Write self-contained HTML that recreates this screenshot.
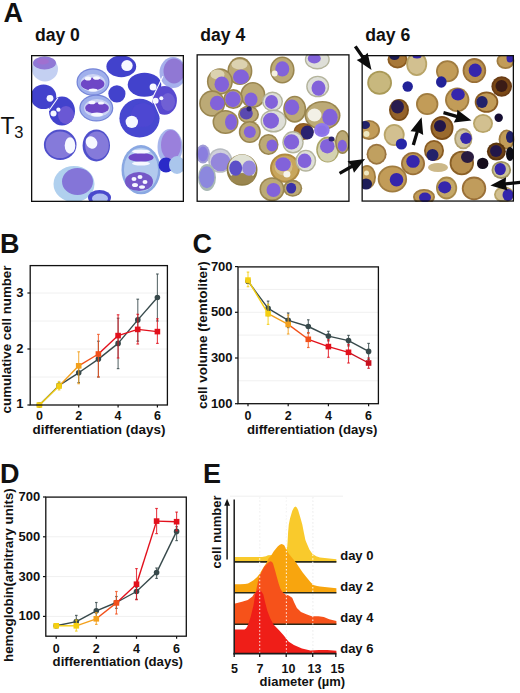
<!DOCTYPE html>
<html><head><meta charset="utf-8"><title>Figure</title>
<style>
html,body{margin:0;padding:0;background:#fff;}
body{width:520px;height:693px;overflow:hidden;}
svg{display:block;}
text{font-family:'Liberation Sans',sans-serif;fill:#111;}
</style></head>
<body>
<svg width="520" height="693" viewBox="0 0 520 693">
<rect width="520" height="693" fill="#fff"/>
<text x="3.4" y="21.8" font-size="27" font-weight="bold" text-anchor="start" >A</text>
<text x="34.9" y="41.3" font-size="17.6" font-weight="bold" text-anchor="start" >day 0</text>
<text x="200.3" y="41.3" font-size="17.6" font-weight="bold" text-anchor="start" >day 4</text>
<text x="365.3" y="41.3" font-size="17.6" font-weight="bold" text-anchor="start" >day 6</text>
<text x="0.4" y="133.7" font-size="23" font-weight="normal" text-anchor="start" >T</text>
<text x="14.2" y="137.7" font-size="16.5" font-weight="normal" text-anchor="start" >3</text>
<g transform="translate(31,55)">

<defs>
<filter id="soft" x="-5%" y="-5%" width="110%" height="110%"><feGaussianBlur stdDeviation="0.55"/></filter>
<filter id="soft2" x="-20%" y="-20%" width="140%" height="140%"><feGaussianBlur stdDeviation="1.2"/></filter>
<radialGradient id="g0D" cx="50%" cy="50%" r="50%">
  <stop offset="0" stop-color="#3d3dcc"/><stop offset="0.8" stop-color="#3a3ac8"/><stop offset="1" stop-color="#5a5ad8"/></radialGradient>
<radialGradient id="g0M" cx="50%" cy="50%" r="50%">
  <stop offset="0" stop-color="#6a5cd2"/><stop offset="0.8" stop-color="#5a52d0"/><stop offset="1" stop-color="#7a80e0"/></radialGradient>
<radialGradient id="g0P" cx="50%" cy="50%" r="50%">
  <stop offset="0" stop-color="#9886dc"/><stop offset="0.7" stop-color="#8476d8"/><stop offset="1" stop-color="#6c6cd8"/></radialGradient>
<radialGradient id="g0L" cx="50%" cy="50%" r="50%">
  <stop offset="0" stop-color="#8a70d0"/><stop offset="0.45" stop-color="#9a88d8"/><stop offset="0.62" stop-color="#d8e4f8"/><stop offset="0.85" stop-color="#b8d0f4"/><stop offset="1" stop-color="#8aa8e8"/></radialGradient>
<radialGradient id="g4T" cx="50%" cy="50%" r="50%">
  <stop offset="0" stop-color="#d6bc8e"/><stop offset="0.75" stop-color="#c8a874"/><stop offset="1" stop-color="#9c7a48"/></radialGradient>
<radialGradient id="g4G" cx="50%" cy="50%" r="50%">
  <stop offset="0" stop-color="#e4e4ea"/><stop offset="0.75" stop-color="#d4d6dc"/><stop offset="1" stop-color="#a8a898"/></radialGradient>
<radialGradient id="g4B" cx="50%" cy="50%" r="50%">
  <stop offset="0" stop-color="#b08850"/><stop offset="0.75" stop-color="#a07840"/><stop offset="1" stop-color="#7a5828"/></radialGradient>
<radialGradient id="gNP" cx="50%" cy="50%" r="50%">
  <stop offset="0" stop-color="#8c7ce4"/><stop offset="0.8" stop-color="#7868d8"/><stop offset="1" stop-color="#8878c8"/></radialGradient>
<radialGradient id="gNB" cx="50%" cy="50%" r="50%">
  <stop offset="0" stop-color="#3030b0"/><stop offset="0.8" stop-color="#2a2aa0"/><stop offset="1" stop-color="#303090"/></radialGradient>
<radialGradient id="gNK" cx="50%" cy="50%" r="50%">
  <stop offset="0" stop-color="#201848"/><stop offset="0.8" stop-color="#282050"/><stop offset="1" stop-color="#403040"/></radialGradient>
<radialGradient id="g6T" cx="50%" cy="50%" r="50%">
  <stop offset="0" stop-color="#d2b680"/><stop offset="0.7" stop-color="#c8a868"/><stop offset="1" stop-color="#a88448"/></radialGradient>
<radialGradient id="g6B" cx="50%" cy="50%" r="50%">
  <stop offset="0" stop-color="#8a5a20"/><stop offset="0.7" stop-color="#9a6a2a"/><stop offset="1" stop-color="#7a5020"/></radialGradient>
<clipPath id="c0"><rect x="0" y="0" width="152.5" height="147"/></clipPath>
</defs>

<g clip-path="url(#c0)"><g filter="url(#soft)">
<ellipse cx="14.0" cy="14.0" rx="13.0" ry="12.5" fill="#c4d0f2" />
<ellipse cx="13.5" cy="8.0" rx="11.5" ry="6.5" fill="#9078d6" />
<ellipse cx="12.0" cy="6.5" rx="6.0" ry="3.0" fill="#a070d0" />
<ellipse cx="90.3" cy="11.4" rx="14.9" ry="10.8" fill="#4242cc" />
<ellipse cx="96.0" cy="10.6" rx="5.7" ry="5.5" fill="#f6f8ff" />
<ellipse cx="142.0" cy="17.6" rx="13.5" ry="15.5" fill="#a6b0ec" />
<ellipse cx="143.0" cy="16.0" rx="10.5" ry="12.5" fill="#9078d4" />
<ellipse cx="12.5" cy="41.8" rx="12.8" ry="12.3" fill="#4242cc" />
<ellipse cx="19.0" cy="43.3" rx="3.4" ry="3.4" fill="#f6f8ff" />
<ellipse cx="31.0" cy="56.0" rx="13.0" ry="14.6" fill="#4242cc" />
<ellipse cx="35.0" cy="60.0" rx="8.0" ry="9.0" fill="#6a58d4" />
<ellipse cx="22.5" cy="58.5" rx="3.0" ry="3.0" fill="#f6f8ff" />
<ellipse cx="27.4" cy="54.7" rx="2.1" ry="2.1" fill="#f6f8ff" />
<ellipse cx="62.0" cy="27.0" rx="16.5" ry="13.8" fill="#7484d8" />
<ellipse cx="62.0" cy="27.0" rx="15.3" ry="12.6" fill="#a0b0ec" />
<ellipse cx="62.0" cy="28.0" rx="12.5" ry="9.0" fill="#ccd4f4" />
<ellipse cx="61.6" cy="29.0" rx="11.8" ry="6.3" fill="#6e46c6" />
<ellipse cx="57.0" cy="23.5" rx="3.2" ry="2.0" fill="#f6f8ff" />
<ellipse cx="65.5" cy="23.0" rx="3.5" ry="1.8" fill="#f6f8ff" />
<ellipse cx="62.0" cy="35.0" rx="4.5" ry="1.6" fill="#f6f8ff" />
<ellipse cx="65.3" cy="53.0" rx="17.0" ry="13.5" fill="#7484d8" />
<ellipse cx="65.3" cy="53.0" rx="15.8" ry="12.3" fill="#a0b0ec" />
<ellipse cx="66.0" cy="53.0" rx="13.0" ry="9.0" fill="#ccd4f4" />
<ellipse cx="66.0" cy="53.0" rx="11.8" ry="5.6" fill="#6e46c6" />
<ellipse cx="61.0" cy="47.5" rx="3.5" ry="1.8" fill="#f6f8ff" />
<ellipse cx="70.0" cy="48.0" rx="3.0" ry="1.6" fill="#f6f8ff" />
<ellipse cx="66.0" cy="59.5" rx="6.0" ry="2.0" fill="#f6f8ff" />
<ellipse cx="85.9" cy="38.8" rx="8.6" ry="8.6" fill="#4242cc" />
<ellipse cx="113.5" cy="29.8" rx="16.8" ry="12.0" fill="#4242cc" />
<ellipse cx="122.1" cy="31.9" rx="3.5" ry="3.5" fill="#f6f8ff" />
<ellipse cx="133.6" cy="45.4" rx="12.3" ry="14.3" fill="#5848d0" />
<ellipse cx="137.0" cy="47.0" rx="7.0" ry="9.0" fill="#7060d4" />
<ellipse cx="124.6" cy="45.8" rx="3.0" ry="3.0" fill="#f6f8ff" />
<ellipse cx="130.3" cy="43.3" rx="2.0" ry="2.0" fill="#f6f8ff" />
<ellipse cx="108.5" cy="63.2" rx="20.1" ry="19.4" fill="#4646d0" />
<ellipse cx="112.0" cy="60.0" rx="12.0" ry="12.0" fill="#4e46d2" />
<ellipse cx="100.8" cy="66.9" rx="6.2" ry="6.2" fill="#f6f8ff" />
<ellipse cx="29.2" cy="89.8" rx="16.3" ry="15.2" fill="#5050cc" />
<ellipse cx="29.0" cy="89.8" rx="14.3" ry="13.2" fill="#857ada" />
<ellipse cx="39.0" cy="90.5" rx="5.3" ry="8.3" fill="#f6f8ff" />
<ellipse cx="65.3" cy="90.5" rx="13.7" ry="15.9" fill="#5050cc" />
<ellipse cx="66.0" cy="90.5" rx="11.8" ry="13.9" fill="#857ada" />
<ellipse cx="60.5" cy="87.5" rx="5.5" ry="6.5" fill="#f6f8ff" transform="rotate(-35 60.5 87.5)" />
<ellipse cx="139.0" cy="92.0" rx="12.5" ry="18.0" fill="#a8b6ec" />
<ellipse cx="140.0" cy="90.0" rx="10.0" ry="15.0" fill="#9a80dc" />
<ellipse cx="110.0" cy="114.7" rx="19.5" ry="24.6" fill="#8aa8e2" />
<ellipse cx="110.0" cy="114.7" rx="17.0" ry="22.0" fill="#b2caee" />
<ellipse cx="110.0" cy="102.4" rx="12.5" ry="4.5" fill="#6e46c6" />
<ellipse cx="110.0" cy="96.5" rx="9.0" ry="2.0" fill="#f6f8ff" />
<ellipse cx="110.0" cy="108.5" rx="9.0" ry="2.0" fill="#f6f8ff" />
<ellipse cx="108.0" cy="126.5" rx="14.0" ry="9.5" fill="#7458c8" />
<ellipse cx="103.0" cy="124.0" rx="2.5" ry="2.0" fill="#f6f8ff" />
<ellipse cx="109.0" cy="122.0" rx="2.5" ry="2.0" fill="#f6f8ff" />
<ellipse cx="114.0" cy="127.0" rx="2.5" ry="2.0" fill="#f6f8ff" />
<ellipse cx="104.0" cy="130.0" rx="3.0" ry="2.0" fill="#f6f8ff" />
<ellipse cx="111.0" cy="132.0" rx="3.0" ry="1.8" fill="#f6f8ff" />
<ellipse cx="135.0" cy="110.0" rx="7.5" ry="7.5" fill="#2c2cc8" />
<ellipse cx="146.0" cy="110.0" rx="8.0" ry="9.0" fill="#aac6ec" />
<ellipse cx="43.0" cy="129.0" rx="20.5" ry="18.0" fill="#b0d0ee" />
<ellipse cx="46.5" cy="126.5" rx="15.5" ry="13.5" fill="#8474d8" />
<ellipse cx="68.5" cy="142.5" rx="11.5" ry="7.5" fill="#4848cc" />
<ellipse cx="69.0" cy="143.5" rx="8.0" ry="5.0" fill="#b0c0f0" />
<line x1="26.8" y1="43.0" x2="18.0" y2="55.5" stroke="#f8faff" stroke-width="1.1" stroke-linecap="round"/>
<line x1="121.3" y1="43.2" x2="131.8" y2="21.5" stroke="#f8faff" stroke-width="1.1" stroke-linecap="round"/>
<line x1="121.3" y1="43.2" x2="128.8" y2="60.5" stroke="#f8faff" stroke-width="1.1" stroke-linecap="round"/>
</g></g>
</g>
<g transform="translate(196.5,54.5)">
<g clip-path="url(#c0)"><g filter="url(#soft)">
<ellipse cx="43.4" cy="16.6" rx="12.5" ry="14.0" fill="#9a8650" />
<ellipse cx="43.4" cy="16.6" rx="10.9" ry="12.4" fill="#bcaa76" />
<ellipse cx="43.0" cy="10.0" rx="8.0" ry="5.0" fill="#dcd2b0" />
<ellipse cx="23.4" cy="27.0" rx="13.0" ry="13.2" fill="#9a8650" />
<ellipse cx="23.4" cy="27.0" rx="11.4" ry="11.6" fill="#bcaa76" />
<ellipse cx="21.0" cy="20.0" rx="7.0" ry="5.0" fill="#dcd2b0" />
<ellipse cx="15.7" cy="49.0" rx="13.0" ry="13.2" fill="#9a8650" />
<ellipse cx="15.7" cy="49.0" rx="11.4" ry="11.6" fill="#bcaa76" />
<ellipse cx="56.4" cy="40.5" rx="12.5" ry="13.0" fill="#9a8650" />
<ellipse cx="56.4" cy="40.5" rx="10.9" ry="11.4" fill="#bcaa76" />
<ellipse cx="36.8" cy="44.6" rx="10.0" ry="10.0" fill="#9a8650" />
<ellipse cx="36.8" cy="44.6" rx="8.4" ry="8.4" fill="#bcaa76" />
<ellipse cx="52.0" cy="60.0" rx="10.5" ry="9.0" fill="#9a8650" />
<ellipse cx="52.0" cy="60.0" rx="8.9" ry="7.4" fill="#bcaa76" />
<ellipse cx="29.0" cy="67.5" rx="13.0" ry="12.0" fill="#9a8650" />
<ellipse cx="29.0" cy="67.5" rx="11.4" ry="10.4" fill="#bcaa76" />
<ellipse cx="53.3" cy="77.5" rx="11.0" ry="11.0" fill="#9a8650" />
<ellipse cx="53.3" cy="77.5" rx="9.4" ry="9.4" fill="#bcaa76" />
<ellipse cx="44.5" cy="22.4" rx="8.0" ry="7.3" fill="#8262da" />
<ellipse cx="25.3" cy="29.7" rx="7.3" ry="7.7" fill="#8262da" />
<ellipse cx="20.7" cy="48.6" rx="7.3" ry="7.3" fill="#8262da" />
<ellipse cx="36.4" cy="44.7" rx="7.7" ry="8.0" fill="#8262da" />
<ellipse cx="54.5" cy="45.0" rx="6.5" ry="7.0" fill="#8262da" />
<ellipse cx="49.8" cy="59.0" rx="6.5" ry="6.0" fill="#5a48b0" />
<ellipse cx="52.6" cy="54.3" rx="2.6" ry="2.6" fill="#2c2470" />
<ellipse cx="34.5" cy="67.6" rx="6.0" ry="8.0" fill="#8262da" />
<ellipse cx="53.3" cy="77.5" rx="6.0" ry="6.0" fill="#8262da" />
<ellipse cx="85.8" cy="15.5" rx="12.3" ry="13.5" fill="#9a8650" />
<ellipse cx="85.8" cy="15.5" rx="10.7" ry="11.9" fill="#bcaa76" />
<ellipse cx="85.8" cy="14.4" rx="7.0" ry="7.7" fill="#8262da" />
<ellipse cx="78.1" cy="19.0" rx="3.0" ry="3.0" fill="#f4f0e0" />
<ellipse cx="120.8" cy="5.0" rx="12.5" ry="10.0" fill="#b4b49c" />
<ellipse cx="120.8" cy="5.0" rx="11.1" ry="8.6" fill="#dedfd8" />
<ellipse cx="117.8" cy="4.0" rx="6.5" ry="5.0" fill="#8262da" />
<ellipse cx="121.2" cy="32.0" rx="11.5" ry="10.8" fill="#b4b49c" />
<ellipse cx="121.2" cy="32.0" rx="10.1" ry="9.4" fill="#dedfd8" />
<ellipse cx="122.0" cy="33.6" rx="7.0" ry="7.7" fill="#8262da" />
<ellipse cx="76.0" cy="47.0" rx="10.5" ry="10.0" fill="#b4b49c" />
<ellipse cx="76.0" cy="47.0" rx="9.1" ry="8.6" fill="#dedfd8" />
<ellipse cx="75.0" cy="47.4" rx="6.5" ry="7.0" fill="#8262da" />
<ellipse cx="77.0" cy="66.5" rx="13.0" ry="11.5" fill="#b4b49c" />
<ellipse cx="77.0" cy="66.5" rx="11.6" ry="10.1" fill="#dedfd8" />
<ellipse cx="74.5" cy="66.2" rx="8.0" ry="8.0" fill="#8262da" />
<ellipse cx="98.2" cy="54.7" rx="11.5" ry="13.5" fill="#9a8650" />
<ellipse cx="98.2" cy="54.7" rx="9.9" ry="11.9" fill="#bcaa76" />
<ellipse cx="95.4" cy="52.8" rx="7.3" ry="7.7" fill="#8262da" />
<ellipse cx="126.0" cy="61.0" rx="18.0" ry="14.5" fill="#9a8650" />
<ellipse cx="126.0" cy="61.0" rx="16.4" ry="12.9" fill="#bcaa76" />
<ellipse cx="118.0" cy="60.5" rx="7.0" ry="6.5" fill="#f2f0e6" />
<ellipse cx="133.5" cy="62.8" rx="7.7" ry="8.5" fill="#8262da" />
<ellipse cx="107.0" cy="77.0" rx="10.0" ry="8.5" fill="#8a5a20" />
<ellipse cx="107.0" cy="77.0" rx="8.6" ry="7.2" fill="#9a6628" />
<ellipse cx="110.8" cy="78.0" rx="6.5" ry="7.0" fill="#2c2470" />
<ellipse cx="125.4" cy="75.5" rx="7.8" ry="7.0" fill="#9078ec" />
<ellipse cx="125.4" cy="75.5" rx="5.0" ry="4.5" fill="#8a70e8" />
<ellipse cx="72.0" cy="90.0" rx="10.0" ry="10.5" fill="#9a8650" />
<ellipse cx="72.0" cy="90.0" rx="8.4" ry="8.9" fill="#bcaa76" />
<ellipse cx="75.5" cy="91.0" rx="5.5" ry="6.0" fill="#8262da" />
<ellipse cx="96.5" cy="87.8" rx="10.7" ry="11.2" fill="#b4b49c" />
<ellipse cx="96.5" cy="87.8" rx="9.3" ry="9.8" fill="#dedfd8" />
<ellipse cx="95.0" cy="87.4" rx="7.7" ry="7.7" fill="#8262da" />
<ellipse cx="131.2" cy="95.1" rx="11.5" ry="13.0" fill="#aaa468" />
<ellipse cx="131.2" cy="95.5" rx="10.0" ry="11.5" fill="#d4d2b0" />
<ellipse cx="130.8" cy="91.7" rx="7.3" ry="7.3" fill="#8262da" />
<ellipse cx="135.0" cy="84.5" rx="3.0" ry="2.5" fill="#2c2470" />
<ellipse cx="146.0" cy="87.4" rx="7.5" ry="12.0" fill="#9a8650" />
<ellipse cx="146.0" cy="87.4" rx="5.9" ry="10.4" fill="#bcaa76" />
<ellipse cx="145.8" cy="91.2" rx="4.6" ry="6.0" fill="#8262da" />
<ellipse cx="88.5" cy="113.6" rx="15.0" ry="14.6" fill="#b08a40" />
<ellipse cx="88.5" cy="113.6" rx="13.0" ry="12.6" fill="#c8a65c" />
<ellipse cx="87.0" cy="112.0" rx="9.0" ry="9.0" fill="#d4bc84" />
<ellipse cx="86.6" cy="109.7" rx="7.7" ry="7.0" fill="#8262da" />
<ellipse cx="90.4" cy="119.7" rx="3.5" ry="3.2" fill="#f6f4ea" />
<ellipse cx="109.3" cy="106.2" rx="10.4" ry="11.0" fill="#b4b49c" />
<ellipse cx="109.3" cy="106.2" rx="9.0" ry="9.6" fill="#dedfd8" />
<ellipse cx="108.1" cy="106.3" rx="6.9" ry="7.3" fill="#8262da" />
<ellipse cx="6.5" cy="99.5" rx="7.0" ry="9.5" fill="#a09cd6" />
<ellipse cx="6.5" cy="99.5" rx="5.0" ry="7.5" fill="#8a7ede" />
<ellipse cx="23.7" cy="106.0" rx="12.0" ry="12.3" fill="#b8bcc0" />
<ellipse cx="23.7" cy="106.0" rx="10.5" ry="10.8" fill="#d0d0dc" />
<ellipse cx="24.1" cy="107.5" rx="10.0" ry="9.2" fill="#9486dc" />
<ellipse cx="10.5" cy="123.0" rx="9.0" ry="13.5" fill="#a8b8b4" />
<ellipse cx="10.3" cy="122.8" rx="7.7" ry="11.0" fill="#8c88de" />
<ellipse cx="45.6" cy="115.5" rx="15.4" ry="15.8" fill="#8e7c44" />
<ellipse cx="45.6" cy="113.5" rx="13.8" ry="13.5" fill="#e0e2d4" />
<ellipse cx="45.6" cy="124.0" rx="12.0" ry="5.5" fill="#9a8650" />
<ellipse cx="39.2" cy="113.6" rx="6.5" ry="7.7" fill="#5c50c8" />
<ellipse cx="52.6" cy="113.6" rx="7.0" ry="7.7" fill="#9486dc" />
<ellipse cx="75.5" cy="134.7" rx="12.5" ry="12.0" fill="#9a8650" />
<ellipse cx="75.5" cy="134.7" rx="10.9" ry="10.4" fill="#bcaa76" />
<ellipse cx="77.0" cy="135.5" rx="7.0" ry="7.0" fill="#8262da" />
<ellipse cx="96.2" cy="133.8" rx="9.5" ry="8.5" fill="#9a8650" />
<ellipse cx="96.2" cy="133.8" rx="7.9" ry="6.9" fill="#bcaa76" />
<ellipse cx="94.7" cy="133.6" rx="5.0" ry="5.4" fill="#3a30a8" />
</g></g>
</g>
<g transform="translate(362,55)">
<g clip-path="url(#c0)"><g filter="url(#soft)">
<ellipse cx="35.5" cy="4.5" rx="10.0" ry="9.0" fill="#8c5c22" />
<ellipse cx="35.5" cy="4.5" rx="8.2" ry="7.2" fill="#a87838" />
<ellipse cx="32.5" cy="1.5" rx="5.0" ry="3.5" fill="#1c1a50" />
<ellipse cx="54.7" cy="9.0" rx="10.5" ry="12.0" fill="#b8a468" />
<ellipse cx="54.7" cy="9.0" rx="8.7" ry="10.2" fill="#d2c090" />
<ellipse cx="55.0" cy="1.0" rx="4.5" ry="2.5" fill="#3426ac" />
<ellipse cx="85.4" cy="16.3" rx="11.4" ry="11.0" fill="#a07c40" />
<ellipse cx="85.4" cy="16.3" rx="9.6" ry="9.2" fill="#c29c58" />
<ellipse cx="112.4" cy="15.6" rx="11.8" ry="12.5" fill="#9a7038" />
<ellipse cx="112.4" cy="15.6" rx="10.0" ry="10.7" fill="#b89050" />
<ellipse cx="113.2" cy="15.2" rx="6.5" ry="6.8" fill="#3426ac" />
<ellipse cx="143.5" cy="6.0" rx="9.0" ry="8.0" fill="#a07c40" />
<ellipse cx="143.5" cy="6.0" rx="7.2" ry="6.2" fill="#c29c58" />
<ellipse cx="148.0" cy="3.0" rx="3.5" ry="4.5" fill="#3426ac" />
<ellipse cx="17.6" cy="27.7" rx="12.4" ry="12.0" fill="#aa9a58" />
<ellipse cx="17.6" cy="27.7" rx="10.6" ry="10.2" fill="#c8b87e" />
<ellipse cx="45.7" cy="31.5" rx="5.2" ry="5.2" fill="#242498" />
<ellipse cx="79.3" cy="27.0" rx="5.3" ry="5.7" fill="#242498" />
<ellipse cx="139.7" cy="31.5" rx="10.3" ry="10.3" fill="#6a3c14" />
<ellipse cx="139.7" cy="31.5" rx="8.5" ry="8.5" fill="#7a4818" />
<ellipse cx="139.5" cy="31.0" rx="6.0" ry="6.0" fill="#3a1c18" />
<ellipse cx="37.0" cy="55.0" rx="10.0" ry="11.0" fill="#7a4c18" />
<ellipse cx="37.0" cy="55.0" rx="8.2" ry="9.2" fill="#94622a" />
<ellipse cx="35.5" cy="51.7" rx="6.5" ry="6.7" fill="#2a1e50" />
<ellipse cx="65.2" cy="49.0" rx="11.2" ry="11.0" fill="#a07c40" />
<ellipse cx="65.2" cy="49.0" rx="9.4" ry="9.2" fill="#c29c58" />
<ellipse cx="95.2" cy="44.8" rx="12.2" ry="12.2" fill="#a07c40" />
<ellipse cx="95.2" cy="44.8" rx="10.4" ry="10.4" fill="#c29c58" />
<ellipse cx="96.0" cy="39.5" rx="6.8" ry="6.1" fill="#3426ac" />
<ellipse cx="124.5" cy="47.1" rx="11.8" ry="10.7" fill="#8a5c24" />
<ellipse cx="124.5" cy="47.1" rx="10.0" ry="8.9" fill="#c29c58" />
<ellipse cx="120.0" cy="47.1" rx="5.7" ry="6.0" fill="#22206a" />
<ellipse cx="136.7" cy="62.7" rx="4.2" ry="4.2" fill="#141030" />
<ellipse cx="121.0" cy="68.5" rx="10.0" ry="9.5" fill="#b8a468" />
<ellipse cx="121.0" cy="68.5" rx="8.2" ry="7.7" fill="#d2c090" />
<ellipse cx="7.0" cy="75.0" rx="11.0" ry="10.0" fill="#a07c40" />
<ellipse cx="7.0" cy="75.0" rx="9.2" ry="8.2" fill="#c29c58" />
<ellipse cx="3.0" cy="70.0" rx="5.0" ry="4.0" fill="#22206a" />
<ellipse cx="4.5" cy="79.0" rx="3.0" ry="3.0" fill="#eee8c0" />
<ellipse cx="32.2" cy="80.0" rx="10.5" ry="11.0" fill="#b8a468" />
<ellipse cx="32.2" cy="80.0" rx="8.7" ry="9.2" fill="#d2c090" />
<ellipse cx="39.4" cy="89.0" rx="5.6" ry="5.6" fill="#2828a8" />
<ellipse cx="80.0" cy="73.0" rx="11.5" ry="12.0" fill="#7a4c18" />
<ellipse cx="80.0" cy="73.0" rx="9.7" ry="10.2" fill="#9a6a2e" />
<ellipse cx="78.0" cy="71.0" rx="6.0" ry="6.0" fill="#22184a" />
<ellipse cx="101.3" cy="83.7" rx="9.1" ry="10.6" fill="#b0a070" />
<ellipse cx="101.3" cy="83.7" rx="7.3" ry="8.8" fill="#d0c4a0" />
<ellipse cx="104.0" cy="83.3" rx="5.7" ry="5.7" fill="#3426ac" />
<ellipse cx="144.6" cy="84.5" rx="8.0" ry="10.0" fill="#a07c40" />
<ellipse cx="144.6" cy="84.5" rx="6.2" ry="8.2" fill="#c29c58" />
<ellipse cx="148.0" cy="82.0" rx="4.0" ry="6.0" fill="#22206a" />
<ellipse cx="14.6" cy="99.2" rx="10.0" ry="10.5" fill="#9a7440" />
<ellipse cx="14.6" cy="99.2" rx="8.2" ry="8.7" fill="#c0a060" />
<ellipse cx="51.0" cy="108.6" rx="12.0" ry="11.6" fill="#9a7038" />
<ellipse cx="51.0" cy="108.6" rx="10.2" ry="9.8" fill="#bc9858" />
<ellipse cx="51.0" cy="106.4" rx="6.7" ry="6.4" fill="#3426ac" />
<ellipse cx="72.0" cy="95.5" rx="10.0" ry="10.5" fill="#8a5c24" />
<ellipse cx="72.0" cy="95.5" rx="8.2" ry="8.7" fill="#b08848" />
<ellipse cx="70.5" cy="100.0" rx="6.0" ry="6.0" fill="#22206a" />
<ellipse cx="99.8" cy="108.0" rx="12.2" ry="12.2" fill="#8a6028" />
<ellipse cx="99.8" cy="108.0" rx="10.4" ry="10.4" fill="#b89050" />
<ellipse cx="105.5" cy="101.9" rx="6.5" ry="6.0" fill="#2a1c40" />
<ellipse cx="120.7" cy="108.4" rx="5.7" ry="5.7" fill="#12101e" />
<ellipse cx="134.4" cy="96.6" rx="9.5" ry="9.0" fill="#5a3410" />
<ellipse cx="134.4" cy="96.6" rx="7.7" ry="7.2" fill="#6a4014" />
<ellipse cx="134.0" cy="96.0" rx="6.0" ry="6.0" fill="#24184a" />
<ellipse cx="148.0" cy="99.0" rx="4.0" ry="7.0" fill="#0a0a14" />
<ellipse cx="139.3" cy="114.9" rx="9.8" ry="9.0" fill="#a09460" />
<ellipse cx="139.3" cy="114.9" rx="8.0" ry="7.2" fill="#ccc498" />
<ellipse cx="138.2" cy="114.1" rx="5.7" ry="6.1" fill="#3426ac" />
<ellipse cx="76.0" cy="112.5" rx="10.0" ry="4.5" fill="#ccb888" />
<ellipse cx="5.0" cy="122.0" rx="9.0" ry="12.0" fill="#a07c40" />
<ellipse cx="5.0" cy="122.0" rx="7.2" ry="10.2" fill="#c29c58" />
<ellipse cx="4.0" cy="129.0" rx="6.0" ry="5.5" fill="#1c1a58" />
<ellipse cx="4.5" cy="118.0" rx="2.5" ry="2.5" fill="#f0e8c0" />
<ellipse cx="30.4" cy="124.0" rx="14.7" ry="13.5" fill="#a07c40" />
<ellipse cx="30.4" cy="124.0" rx="12.9" ry="11.7" fill="#c29c58" />
<ellipse cx="34.5" cy="124.8" rx="6.8" ry="6.8" fill="#3426ac" />
<ellipse cx="84.6" cy="133.0" rx="10.6" ry="11.4" fill="#a88848" />
<ellipse cx="84.6" cy="133.0" rx="8.8" ry="9.6" fill="#c4a868" />
<ellipse cx="82.7" cy="132.3" rx="6.5" ry="6.1" fill="#3426ac" />
<ellipse cx="112.0" cy="133.4" rx="12.2" ry="11.8" fill="#9a7038" />
<ellipse cx="112.0" cy="133.4" rx="10.4" ry="10.0" fill="#c09c5c" />
<ellipse cx="62.0" cy="142.0" rx="11.0" ry="8.0" fill="#a07c40" />
<ellipse cx="62.0" cy="142.0" rx="9.2" ry="6.2" fill="#c29c58" />
<ellipse cx="63.0" cy="142.5" rx="6.0" ry="5.0" fill="#3426ac" />
<ellipse cx="142.0" cy="139.5" rx="10.0" ry="8.0" fill="#b8a468" />
<ellipse cx="142.0" cy="139.5" rx="8.2" ry="6.2" fill="#d2c090" />
<ellipse cx="146.0" cy="140.0" rx="5.5" ry="6.0" fill="#3426ac" />
</g></g>
</g>
<rect x="31.65" y="55.65" width="151.7" height="145.7" fill="none" stroke="#0e0e0e" stroke-width="1.3"/>
<rect x="197.15" y="54.85" width="151.8" height="146.4" fill="none" stroke="#0e0e0e" stroke-width="1.3"/>
<rect x="362.15" y="55.65" width="151.2" height="145.4" fill="none" stroke="#0e0e0e" stroke-width="1.3"/>
<path d="M353.9,47.2 L361.4,58.1 L356.7,60.1 L371.5,70.0 L367.6,52.7 L364.1,56.3 L356.7,45.4 Z" fill="#0c0c0c"/>
<path d="M414.9,145.5 L418.7,132.6 L423.2,135.0 L421.6,117.3 L410.5,131.2 L415.6,131.7 L411.7,144.5 Z" fill="#0c0c0c"/>
<path d="M443.1,114.3 L456.1,117.9 L453.8,122.4 L471.5,120.4 L457.3,109.7 L457.0,114.7 L443.9,111.1 Z" fill="#0c0c0c"/>
<path d="M340.4,174.8 L352.4,168.0 L354.0,172.8 L365.1,158.9 L347.5,161.3 L350.8,165.1 L338.8,172.0 Z" fill="#0c0c0c"/>
<path d="M521.8,180.6 L505.6,182.2 L506.1,177.2 L490.4,185.5 L507.5,190.4 L506.0,185.5 L522.2,183.8 Z" fill="#0c0c0c"/>
<text x="0.1" y="252.5" font-size="27" font-weight="bold" text-anchor="start" >B</text>
<line x1="30.2" y1="377.0" x2="167.4" y2="377.0" stroke="#f0f0f0" stroke-width="1"/>
<line x1="30.2" y1="349.0" x2="167.4" y2="349.0" stroke="#f0f0f0" stroke-width="1"/>
<line x1="30.2" y1="321.0" x2="167.4" y2="321.0" stroke="#f0f0f0" stroke-width="1"/>
<line x1="30.2" y1="293.0" x2="167.4" y2="293.0" stroke="#f0f0f0" stroke-width="1"/>
<line x1="27.4" y1="405.0" x2="30.2" y2="405.0" stroke="#111" stroke-width="1.2"/>
<text x="23.4" y="407.7" font-size="13" font-weight="bold" text-anchor="end" >1</text>
<line x1="27.4" y1="349.0" x2="30.2" y2="349.0" stroke="#111" stroke-width="1.2"/>
<text x="23.4" y="353.0" font-size="13" font-weight="bold" text-anchor="end" >2</text>
<line x1="27.4" y1="293.0" x2="30.2" y2="293.0" stroke="#111" stroke-width="1.2"/>
<text x="23.4" y="297.0" font-size="13" font-weight="bold" text-anchor="end" >3</text>
<line x1="39.4" y1="405.0" x2="39.4" y2="407.6" stroke="#111" stroke-width="1.2"/>
<text x="39.4" y="420.0" font-size="12.5" font-weight="bold" text-anchor="middle" >0</text>
<line x1="78.7" y1="405.0" x2="78.7" y2="407.6" stroke="#111" stroke-width="1.2"/>
<text x="78.7" y="420.0" font-size="12.5" font-weight="bold" text-anchor="middle" >2</text>
<line x1="118.1" y1="405.0" x2="118.1" y2="407.6" stroke="#111" stroke-width="1.2"/>
<text x="118.1" y="420.0" font-size="12.5" font-weight="bold" text-anchor="middle" >4</text>
<line x1="157.4" y1="405.0" x2="157.4" y2="407.6" stroke="#111" stroke-width="1.2"/>
<text x="157.4" y="420.0" font-size="12.5" font-weight="bold" text-anchor="middle" >6</text>
<line x1="39.4" y1="405.0" x2="59.1" y2="385.4" stroke="#37494b" stroke-width="1.4"/>
<line x1="59.1" y1="385.4" x2="78.7" y2="372.8" stroke="#37494b" stroke-width="1.4"/>
<line x1="78.7" y1="372.8" x2="98.4" y2="359.1" stroke="#37494b" stroke-width="1.4"/>
<line x1="98.4" y1="359.1" x2="118.1" y2="343.4" stroke="#37494b" stroke-width="1.4"/>
<line x1="118.1" y1="343.4" x2="137.8" y2="319.9" stroke="#37494b" stroke-width="1.4"/>
<line x1="137.8" y1="319.9" x2="157.4" y2="297.5" stroke="#37494b" stroke-width="1.4"/>
<line x1="59.1" y1="387.6" x2="59.1" y2="383.2" stroke="#37494b" stroke-width="1.1" opacity="0.8"/>
<line x1="57.8" y1="387.6" x2="60.4" y2="387.6" stroke="#37494b" stroke-width="1.2" opacity="0.8"/>
<line x1="57.8" y1="383.2" x2="60.4" y2="383.2" stroke="#37494b" stroke-width="1.2" opacity="0.8"/>
<line x1="78.7" y1="363.6" x2="78.7" y2="382.6" stroke="#37494b" stroke-width="1.1" opacity="0.8"/>
<line x1="77.4" y1="363.6" x2="80.0" y2="363.6" stroke="#37494b" stroke-width="1.2" opacity="0.8"/>
<line x1="77.4" y1="382.6" x2="80.0" y2="382.6" stroke="#37494b" stroke-width="1.2" opacity="0.8"/>
<line x1="98.4" y1="341.2" x2="98.4" y2="377.0" stroke="#37494b" stroke-width="1.1" opacity="0.8"/>
<line x1="97.1" y1="341.2" x2="99.7" y2="341.2" stroke="#37494b" stroke-width="1.2" opacity="0.8"/>
<line x1="97.1" y1="377.0" x2="99.7" y2="377.0" stroke="#37494b" stroke-width="1.2" opacity="0.8"/>
<line x1="118.1" y1="318.2" x2="118.1" y2="368.6" stroke="#37494b" stroke-width="1.1" opacity="0.8"/>
<line x1="116.8" y1="318.2" x2="119.4" y2="318.2" stroke="#37494b" stroke-width="1.2" opacity="0.8"/>
<line x1="116.8" y1="368.6" x2="119.4" y2="368.6" stroke="#37494b" stroke-width="1.2" opacity="0.8"/>
<line x1="137.8" y1="299.2" x2="137.8" y2="341.2" stroke="#37494b" stroke-width="1.1" opacity="0.8"/>
<line x1="136.4" y1="299.2" x2="139.1" y2="299.2" stroke="#37494b" stroke-width="1.2" opacity="0.8"/>
<line x1="136.4" y1="341.2" x2="139.1" y2="341.2" stroke="#37494b" stroke-width="1.2" opacity="0.8"/>
<line x1="157.4" y1="274.0" x2="157.4" y2="321.0" stroke="#37494b" stroke-width="1.1" opacity="0.8"/>
<line x1="156.1" y1="274.0" x2="158.7" y2="274.0" stroke="#37494b" stroke-width="1.2" opacity="0.8"/>
<line x1="156.1" y1="321.0" x2="158.7" y2="321.0" stroke="#37494b" stroke-width="1.2" opacity="0.8"/>
<circle cx="39.4" cy="405.0" r="2.80" fill="#37494b"/>
<circle cx="59.1" cy="385.4" r="2.80" fill="#37494b"/>
<circle cx="78.7" cy="372.8" r="2.80" fill="#37494b"/>
<circle cx="98.4" cy="359.1" r="2.80" fill="#37494b"/>
<circle cx="118.1" cy="343.4" r="2.80" fill="#37494b"/>
<circle cx="137.8" cy="319.9" r="2.80" fill="#37494b"/>
<circle cx="157.4" cy="297.5" r="2.80" fill="#37494b"/>
<line x1="39.4" y1="405.0" x2="59.1" y2="386.0" stroke="#f5cf10" stroke-width="1.4"/>
<line x1="59.1" y1="386.0" x2="78.7" y2="365.8" stroke="#f3a01c" stroke-width="1.4"/>
<line x1="78.7" y1="365.8" x2="98.4" y2="354.0" stroke="#f2501a" stroke-width="1.4"/>
<line x1="98.4" y1="354.0" x2="118.1" y2="335.6" stroke="#e2101c" stroke-width="1.4"/>
<line x1="118.1" y1="335.6" x2="137.8" y2="329.4" stroke="#e2101c" stroke-width="1.4"/>
<line x1="137.8" y1="329.4" x2="157.4" y2="331.6" stroke="#e2101c" stroke-width="1.4"/>
<line x1="59.1" y1="381.5" x2="59.1" y2="389.9" stroke="#f5cf10" stroke-width="1.1" opacity="0.8"/>
<line x1="57.8" y1="381.5" x2="60.4" y2="381.5" stroke="#f5cf10" stroke-width="1.2" opacity="0.8"/>
<line x1="57.8" y1="389.9" x2="60.4" y2="389.9" stroke="#f5cf10" stroke-width="1.2" opacity="0.8"/>
<line x1="78.7" y1="351.8" x2="78.7" y2="383.7" stroke="#f3a01c" stroke-width="1.1" opacity="0.8"/>
<line x1="77.4" y1="351.8" x2="80.0" y2="351.8" stroke="#f3a01c" stroke-width="1.2" opacity="0.8"/>
<line x1="77.4" y1="383.7" x2="80.0" y2="383.7" stroke="#f3a01c" stroke-width="1.2" opacity="0.8"/>
<line x1="98.4" y1="334.4" x2="98.4" y2="377.0" stroke="#f2501a" stroke-width="1.1" opacity="0.8"/>
<line x1="97.1" y1="334.4" x2="99.7" y2="334.4" stroke="#f2501a" stroke-width="1.2" opacity="0.8"/>
<line x1="97.1" y1="377.0" x2="99.7" y2="377.0" stroke="#f2501a" stroke-width="1.2" opacity="0.8"/>
<line x1="118.1" y1="314.8" x2="118.1" y2="358.0" stroke="#e2101c" stroke-width="1.1" opacity="0.8"/>
<line x1="116.8" y1="314.8" x2="119.4" y2="314.8" stroke="#e2101c" stroke-width="1.2" opacity="0.8"/>
<line x1="116.8" y1="358.0" x2="119.4" y2="358.0" stroke="#e2101c" stroke-width="1.2" opacity="0.8"/>
<line x1="137.8" y1="314.3" x2="137.8" y2="344.0" stroke="#e2101c" stroke-width="1.1" opacity="0.8"/>
<line x1="136.4" y1="314.3" x2="139.1" y2="314.3" stroke="#e2101c" stroke-width="1.2" opacity="0.8"/>
<line x1="136.4" y1="344.0" x2="139.1" y2="344.0" stroke="#e2101c" stroke-width="1.2" opacity="0.8"/>
<line x1="157.4" y1="318.8" x2="157.4" y2="343.4" stroke="#e2101c" stroke-width="1.1" opacity="0.8"/>
<line x1="156.1" y1="318.8" x2="158.7" y2="318.8" stroke="#e2101c" stroke-width="1.2" opacity="0.8"/>
<line x1="156.1" y1="343.4" x2="158.7" y2="343.4" stroke="#e2101c" stroke-width="1.2" opacity="0.8"/>
<rect x="36.6" y="402.2" width="5.6" height="5.6" fill="#f5cf10"/>
<rect x="56.3" y="383.2" width="5.6" height="5.6" fill="#f5cf10"/>
<rect x="75.9" y="363.0" width="5.6" height="5.6" fill="#f3a01c"/>
<rect x="95.6" y="351.2" width="5.6" height="5.6" fill="#f2501a"/>
<rect x="115.3" y="332.8" width="5.6" height="5.6" fill="#e2101c"/>
<rect x="134.9" y="326.6" width="5.6" height="5.6" fill="#e2101c"/>
<rect x="154.6" y="328.8" width="5.6" height="5.6" fill="#e2101c"/>
<rect x="30.2" y="265.6" width="137.2" height="139.4" fill="none" stroke="#111" stroke-width="1.3"/>
<text x="32.5" y="434.0" font-size="13.45" font-weight="bold" text-anchor="start" >differentiation (days)</text>
<text transform="translate(11.4,339.5) rotate(-90)" x="0" y="0" font-size="13.3" font-weight="bold" text-anchor="middle">cumulative cell number</text>
<text x="192.6" y="252.8" font-size="27" font-weight="bold" text-anchor="start" >C</text>
<line x1="238.0" y1="380.8" x2="378.4" y2="380.8" stroke="#f0f0f0" stroke-width="1"/>
<line x1="238.0" y1="358.0" x2="378.4" y2="358.0" stroke="#f0f0f0" stroke-width="1"/>
<line x1="238.0" y1="335.1" x2="378.4" y2="335.1" stroke="#f0f0f0" stroke-width="1"/>
<line x1="238.0" y1="312.3" x2="378.4" y2="312.3" stroke="#f0f0f0" stroke-width="1"/>
<line x1="238.0" y1="289.4" x2="378.4" y2="289.4" stroke="#f0f0f0" stroke-width="1"/>
<line x1="235.0" y1="403.7" x2="238.0" y2="403.7" stroke="#111" stroke-width="1.2"/>
<text x="232.6" y="407.7" font-size="13" font-weight="bold" text-anchor="end" >100</text>
<line x1="235.0" y1="358.0" x2="238.0" y2="358.0" stroke="#111" stroke-width="1.2"/>
<text x="232.6" y="362.0" font-size="13" font-weight="bold" text-anchor="end" >300</text>
<line x1="235.0" y1="312.3" x2="238.0" y2="312.3" stroke="#111" stroke-width="1.2"/>
<text x="232.6" y="316.3" font-size="13" font-weight="bold" text-anchor="end" >500</text>
<line x1="235.0" y1="266.6" x2="238.0" y2="266.6" stroke="#111" stroke-width="1.2"/>
<text x="232.6" y="270.6" font-size="13" font-weight="bold" text-anchor="end" >700</text>
<line x1="248.0" y1="403.7" x2="248.0" y2="406.3" stroke="#111" stroke-width="1.2"/>
<text x="248.0" y="419.6" font-size="12.5" font-weight="bold" text-anchor="middle" >0</text>
<line x1="288.2" y1="403.7" x2="288.2" y2="406.3" stroke="#111" stroke-width="1.2"/>
<text x="288.2" y="419.6" font-size="12.5" font-weight="bold" text-anchor="middle" >2</text>
<line x1="328.4" y1="403.7" x2="328.4" y2="406.3" stroke="#111" stroke-width="1.2"/>
<text x="328.4" y="419.6" font-size="12.5" font-weight="bold" text-anchor="middle" >4</text>
<line x1="368.6" y1="403.7" x2="368.6" y2="406.3" stroke="#111" stroke-width="1.2"/>
<text x="368.6" y="419.6" font-size="12.5" font-weight="bold" text-anchor="middle" >6</text>
<line x1="248.0" y1="281.2" x2="268.1" y2="308.4" stroke="#37494b" stroke-width="1.4"/>
<line x1="268.1" y1="308.4" x2="288.2" y2="320.3" stroke="#37494b" stroke-width="1.4"/>
<line x1="288.2" y1="320.3" x2="308.3" y2="326.5" stroke="#37494b" stroke-width="1.4"/>
<line x1="308.3" y1="326.5" x2="328.4" y2="336.1" stroke="#37494b" stroke-width="1.4"/>
<line x1="328.4" y1="336.1" x2="348.5" y2="340.6" stroke="#37494b" stroke-width="1.4"/>
<line x1="348.5" y1="340.6" x2="368.6" y2="351.4" stroke="#37494b" stroke-width="1.4"/>
<line x1="268.1" y1="301.1" x2="268.1" y2="315.7" stroke="#37494b" stroke-width="1.1" opacity="0.8"/>
<line x1="266.8" y1="301.1" x2="269.4" y2="301.1" stroke="#37494b" stroke-width="1.2" opacity="0.8"/>
<line x1="266.8" y1="315.7" x2="269.4" y2="315.7" stroke="#37494b" stroke-width="1.2" opacity="0.8"/>
<line x1="288.2" y1="313.0" x2="288.2" y2="327.6" stroke="#37494b" stroke-width="1.1" opacity="0.8"/>
<line x1="286.9" y1="313.0" x2="289.5" y2="313.0" stroke="#37494b" stroke-width="1.2" opacity="0.8"/>
<line x1="286.9" y1="327.6" x2="289.5" y2="327.6" stroke="#37494b" stroke-width="1.2" opacity="0.8"/>
<line x1="308.3" y1="319.8" x2="308.3" y2="333.1" stroke="#37494b" stroke-width="1.1" opacity="0.8"/>
<line x1="307.0" y1="319.8" x2="309.6" y2="319.8" stroke="#37494b" stroke-width="1.2" opacity="0.8"/>
<line x1="307.0" y1="333.1" x2="309.6" y2="333.1" stroke="#37494b" stroke-width="1.2" opacity="0.8"/>
<line x1="328.4" y1="331.3" x2="328.4" y2="340.9" stroke="#37494b" stroke-width="1.1" opacity="0.8"/>
<line x1="327.1" y1="331.3" x2="329.7" y2="331.3" stroke="#37494b" stroke-width="1.2" opacity="0.8"/>
<line x1="327.1" y1="340.9" x2="329.7" y2="340.9" stroke="#37494b" stroke-width="1.2" opacity="0.8"/>
<line x1="348.5" y1="335.4" x2="348.5" y2="345.9" stroke="#37494b" stroke-width="1.1" opacity="0.8"/>
<line x1="347.2" y1="335.4" x2="349.8" y2="335.4" stroke="#37494b" stroke-width="1.2" opacity="0.8"/>
<line x1="347.2" y1="345.9" x2="349.8" y2="345.9" stroke="#37494b" stroke-width="1.2" opacity="0.8"/>
<line x1="368.6" y1="343.4" x2="368.6" y2="359.4" stroke="#37494b" stroke-width="1.1" opacity="0.8"/>
<line x1="367.3" y1="343.4" x2="369.9" y2="343.4" stroke="#37494b" stroke-width="1.2" opacity="0.8"/>
<line x1="367.3" y1="359.4" x2="369.9" y2="359.4" stroke="#37494b" stroke-width="1.2" opacity="0.8"/>
<circle cx="248.0" cy="281.2" r="2.80" fill="#37494b"/>
<circle cx="268.1" cy="308.4" r="2.80" fill="#37494b"/>
<circle cx="288.2" cy="320.3" r="2.80" fill="#37494b"/>
<circle cx="308.3" cy="326.5" r="2.80" fill="#37494b"/>
<circle cx="328.4" cy="336.1" r="2.80" fill="#37494b"/>
<circle cx="348.5" cy="340.6" r="2.80" fill="#37494b"/>
<circle cx="368.6" cy="351.4" r="2.80" fill="#37494b"/>
<line x1="248.0" y1="280.1" x2="268.1" y2="313.7" stroke="#f5cf10" stroke-width="1.4"/>
<line x1="268.1" y1="313.7" x2="288.2" y2="324.4" stroke="#f3a01c" stroke-width="1.4"/>
<line x1="288.2" y1="324.4" x2="308.3" y2="339.3" stroke="#f2501a" stroke-width="1.4"/>
<line x1="308.3" y1="339.3" x2="328.4" y2="346.6" stroke="#e2101c" stroke-width="1.4"/>
<line x1="328.4" y1="346.6" x2="348.5" y2="352.3" stroke="#e2101c" stroke-width="1.4"/>
<line x1="348.5" y1="352.3" x2="368.6" y2="363.0" stroke="#c8101e" stroke-width="1.4"/>
<line x1="248.0" y1="272.1" x2="248.0" y2="286.7" stroke="#f5cf10" stroke-width="1.1" opacity="0.8"/>
<line x1="246.7" y1="272.1" x2="249.3" y2="272.1" stroke="#f5cf10" stroke-width="1.2" opacity="0.8"/>
<line x1="246.7" y1="286.7" x2="249.3" y2="286.7" stroke="#f5cf10" stroke-width="1.2" opacity="0.8"/>
<line x1="268.1" y1="304.3" x2="268.1" y2="324.4" stroke="#f5cf10" stroke-width="1.1" opacity="0.8"/>
<line x1="266.8" y1="304.3" x2="269.4" y2="304.3" stroke="#f5cf10" stroke-width="1.2" opacity="0.8"/>
<line x1="266.8" y1="324.4" x2="269.4" y2="324.4" stroke="#f5cf10" stroke-width="1.2" opacity="0.8"/>
<line x1="288.2" y1="315.0" x2="288.2" y2="334.0" stroke="#f3a01c" stroke-width="1.1" opacity="0.8"/>
<line x1="286.9" y1="315.0" x2="289.5" y2="315.0" stroke="#f3a01c" stroke-width="1.2" opacity="0.8"/>
<line x1="286.9" y1="334.0" x2="289.5" y2="334.0" stroke="#f3a01c" stroke-width="1.2" opacity="0.8"/>
<line x1="308.3" y1="332.6" x2="308.3" y2="347.5" stroke="#f2501a" stroke-width="1.1" opacity="0.8"/>
<line x1="307.0" y1="332.6" x2="309.6" y2="332.6" stroke="#f2501a" stroke-width="1.2" opacity="0.8"/>
<line x1="307.0" y1="347.5" x2="309.6" y2="347.5" stroke="#f2501a" stroke-width="1.2" opacity="0.8"/>
<line x1="328.4" y1="339.7" x2="328.4" y2="357.3" stroke="#e2101c" stroke-width="1.1" opacity="0.8"/>
<line x1="327.1" y1="339.7" x2="329.7" y2="339.7" stroke="#e2101c" stroke-width="1.2" opacity="0.8"/>
<line x1="327.1" y1="357.3" x2="329.7" y2="357.3" stroke="#e2101c" stroke-width="1.2" opacity="0.8"/>
<line x1="348.5" y1="344.5" x2="348.5" y2="363.0" stroke="#e2101c" stroke-width="1.1" opacity="0.8"/>
<line x1="347.2" y1="344.5" x2="349.8" y2="344.5" stroke="#e2101c" stroke-width="1.2" opacity="0.8"/>
<line x1="347.2" y1="363.0" x2="349.8" y2="363.0" stroke="#e2101c" stroke-width="1.2" opacity="0.8"/>
<line x1="368.6" y1="358.0" x2="368.6" y2="368.3" stroke="#c8101e" stroke-width="1.1" opacity="0.8"/>
<line x1="367.3" y1="358.0" x2="369.9" y2="358.0" stroke="#c8101e" stroke-width="1.2" opacity="0.8"/>
<line x1="367.3" y1="368.3" x2="369.9" y2="368.3" stroke="#c8101e" stroke-width="1.2" opacity="0.8"/>
<rect x="245.2" y="277.3" width="5.6" height="5.6" fill="#f5cf10"/>
<rect x="265.3" y="310.9" width="5.6" height="5.6" fill="#f5cf10"/>
<rect x="285.4" y="321.6" width="5.6" height="5.6" fill="#f3a01c"/>
<rect x="305.5" y="336.5" width="5.6" height="5.6" fill="#f2501a"/>
<rect x="325.6" y="343.8" width="5.6" height="5.6" fill="#e2101c"/>
<rect x="345.7" y="349.5" width="5.6" height="5.6" fill="#e2101c"/>
<rect x="365.8" y="360.2" width="5.6" height="5.6" fill="#c8101e"/>
<rect x="238.0" y="266.9" width="140.4" height="136.8" fill="none" stroke="#111" stroke-width="1.3"/>
<text x="247.0" y="434.4" font-size="13.2" font-weight="bold" text-anchor="start" >differentiation (days)</text>
<text transform="translate(207.2,335.2) rotate(-90)" x="0" y="0" font-size="13.5" font-weight="bold" text-anchor="middle">cell volume (femtoliter)</text>
<text x="-0.1" y="482.5" font-size="27" font-weight="bold" text-anchor="start" >D</text>
<line x1="45.8" y1="616.4" x2="186.3" y2="616.4" stroke="#f0f0f0" stroke-width="1"/>
<line x1="45.8" y1="576.6" x2="186.3" y2="576.6" stroke="#f0f0f0" stroke-width="1"/>
<line x1="45.8" y1="536.8" x2="186.3" y2="536.8" stroke="#f0f0f0" stroke-width="1"/>
<line x1="43.0" y1="616.4" x2="45.8" y2="616.4" stroke="#111" stroke-width="1.2"/>
<text x="40.2" y="620.4" font-size="13" font-weight="bold" text-anchor="end" >100</text>
<line x1="43.0" y1="576.6" x2="45.8" y2="576.6" stroke="#111" stroke-width="1.2"/>
<text x="40.2" y="580.6" font-size="13" font-weight="bold" text-anchor="end" >300</text>
<line x1="43.0" y1="536.8" x2="45.8" y2="536.8" stroke="#111" stroke-width="1.2"/>
<text x="40.2" y="540.8" font-size="13" font-weight="bold" text-anchor="end" >500</text>
<line x1="43.0" y1="497.0" x2="45.8" y2="497.0" stroke="#111" stroke-width="1.2"/>
<text x="40.2" y="501.0" font-size="13" font-weight="bold" text-anchor="end" >700</text>
<line x1="56.2" y1="636.2" x2="56.2" y2="638.8" stroke="#111" stroke-width="1.2"/>
<text x="56.2" y="652.8" font-size="12.5" font-weight="bold" text-anchor="middle" >0</text>
<line x1="96.3" y1="636.2" x2="96.3" y2="638.8" stroke="#111" stroke-width="1.2"/>
<text x="96.3" y="652.8" font-size="12.5" font-weight="bold" text-anchor="middle" >2</text>
<line x1="136.5" y1="636.2" x2="136.5" y2="638.8" stroke="#111" stroke-width="1.2"/>
<text x="136.5" y="652.8" font-size="12.5" font-weight="bold" text-anchor="middle" >4</text>
<line x1="176.6" y1="636.2" x2="176.6" y2="638.8" stroke="#111" stroke-width="1.2"/>
<text x="176.6" y="652.8" font-size="12.5" font-weight="bold" text-anchor="middle" >6</text>
<line x1="56.2" y1="625.8" x2="76.3" y2="621.6" stroke="#37494b" stroke-width="1.4"/>
<line x1="76.3" y1="621.6" x2="96.3" y2="610.8" stroke="#37494b" stroke-width="1.4"/>
<line x1="96.3" y1="610.8" x2="116.4" y2="602.5" stroke="#37494b" stroke-width="1.4"/>
<line x1="116.4" y1="602.5" x2="136.5" y2="591.5" stroke="#37494b" stroke-width="1.4"/>
<line x1="136.5" y1="591.5" x2="156.6" y2="572.6" stroke="#37494b" stroke-width="1.4"/>
<line x1="156.6" y1="572.6" x2="176.6" y2="531.4" stroke="#37494b" stroke-width="1.4"/>
<line x1="76.3" y1="615.4" x2="76.3" y2="627.3" stroke="#37494b" stroke-width="1.1" opacity="0.8"/>
<line x1="75.0" y1="615.4" x2="77.6" y2="615.4" stroke="#37494b" stroke-width="1.2" opacity="0.8"/>
<line x1="75.0" y1="627.3" x2="77.6" y2="627.3" stroke="#37494b" stroke-width="1.2" opacity="0.8"/>
<line x1="96.3" y1="602.5" x2="96.3" y2="618.8" stroke="#37494b" stroke-width="1.1" opacity="0.8"/>
<line x1="95.0" y1="602.5" x2="97.6" y2="602.5" stroke="#37494b" stroke-width="1.2" opacity="0.8"/>
<line x1="95.0" y1="618.8" x2="97.6" y2="618.8" stroke="#37494b" stroke-width="1.2" opacity="0.8"/>
<line x1="116.4" y1="596.5" x2="116.4" y2="608.4" stroke="#37494b" stroke-width="1.1" opacity="0.8"/>
<line x1="115.1" y1="596.5" x2="117.7" y2="596.5" stroke="#37494b" stroke-width="1.2" opacity="0.8"/>
<line x1="115.1" y1="608.4" x2="117.7" y2="608.4" stroke="#37494b" stroke-width="1.2" opacity="0.8"/>
<line x1="136.5" y1="587.5" x2="136.5" y2="599.3" stroke="#37494b" stroke-width="1.1" opacity="0.8"/>
<line x1="135.2" y1="587.5" x2="137.8" y2="587.5" stroke="#37494b" stroke-width="1.2" opacity="0.8"/>
<line x1="135.2" y1="599.3" x2="137.8" y2="599.3" stroke="#37494b" stroke-width="1.2" opacity="0.8"/>
<line x1="156.6" y1="568.0" x2="156.6" y2="578.4" stroke="#37494b" stroke-width="1.1" opacity="0.8"/>
<line x1="155.2" y1="568.0" x2="157.9" y2="568.0" stroke="#37494b" stroke-width="1.2" opacity="0.8"/>
<line x1="155.2" y1="578.4" x2="157.9" y2="578.4" stroke="#37494b" stroke-width="1.2" opacity="0.8"/>
<line x1="176.6" y1="526.7" x2="176.6" y2="540.6" stroke="#37494b" stroke-width="1.1" opacity="0.8"/>
<line x1="175.3" y1="526.7" x2="177.9" y2="526.7" stroke="#37494b" stroke-width="1.2" opacity="0.8"/>
<line x1="175.3" y1="540.6" x2="177.9" y2="540.6" stroke="#37494b" stroke-width="1.2" opacity="0.8"/>
<circle cx="56.2" cy="625.8" r="2.80" fill="#37494b"/>
<circle cx="76.3" cy="621.6" r="2.80" fill="#37494b"/>
<circle cx="96.3" cy="610.8" r="2.80" fill="#37494b"/>
<circle cx="116.4" cy="602.5" r="2.80" fill="#37494b"/>
<circle cx="136.5" cy="591.5" r="2.80" fill="#37494b"/>
<circle cx="156.6" cy="572.6" r="2.80" fill="#37494b"/>
<circle cx="176.6" cy="531.4" r="2.80" fill="#37494b"/>
<line x1="56.2" y1="625.8" x2="76.3" y2="625.8" stroke="#f5cf10" stroke-width="1.4"/>
<line x1="76.3" y1="625.8" x2="96.3" y2="618.8" stroke="#f3a01c" stroke-width="1.4"/>
<line x1="96.3" y1="618.8" x2="116.4" y2="602.9" stroke="#f2501a" stroke-width="1.4"/>
<line x1="116.4" y1="602.9" x2="136.5" y2="584.2" stroke="#e2101c" stroke-width="1.4"/>
<line x1="136.5" y1="584.2" x2="156.6" y2="521.1" stroke="#e2101c" stroke-width="1.4"/>
<line x1="156.6" y1="521.1" x2="176.6" y2="521.7" stroke="#e2101c" stroke-width="1.4"/>
<line x1="76.3" y1="620.0" x2="76.3" y2="631.1" stroke="#f5cf10" stroke-width="1.1" opacity="0.8"/>
<line x1="75.0" y1="620.0" x2="77.6" y2="620.0" stroke="#f5cf10" stroke-width="1.2" opacity="0.8"/>
<line x1="75.0" y1="631.1" x2="77.6" y2="631.1" stroke="#f5cf10" stroke-width="1.2" opacity="0.8"/>
<line x1="96.3" y1="612.6" x2="96.3" y2="624.4" stroke="#f3a01c" stroke-width="1.1" opacity="0.8"/>
<line x1="95.0" y1="612.6" x2="97.6" y2="612.6" stroke="#f3a01c" stroke-width="1.2" opacity="0.8"/>
<line x1="95.0" y1="624.4" x2="97.6" y2="624.4" stroke="#f3a01c" stroke-width="1.2" opacity="0.8"/>
<line x1="116.4" y1="591.5" x2="116.4" y2="614.0" stroke="#f2501a" stroke-width="1.1" opacity="0.8"/>
<line x1="115.1" y1="591.5" x2="117.7" y2="591.5" stroke="#f2501a" stroke-width="1.2" opacity="0.8"/>
<line x1="115.1" y1="614.0" x2="117.7" y2="614.0" stroke="#f2501a" stroke-width="1.2" opacity="0.8"/>
<line x1="136.5" y1="568.6" x2="136.5" y2="599.7" stroke="#e2101c" stroke-width="1.1" opacity="0.8"/>
<line x1="135.2" y1="568.6" x2="137.8" y2="568.6" stroke="#e2101c" stroke-width="1.2" opacity="0.8"/>
<line x1="135.2" y1="599.7" x2="137.8" y2="599.7" stroke="#e2101c" stroke-width="1.2" opacity="0.8"/>
<line x1="156.6" y1="508.5" x2="156.6" y2="533.6" stroke="#e2101c" stroke-width="1.1" opacity="0.8"/>
<line x1="155.2" y1="508.5" x2="157.9" y2="508.5" stroke="#e2101c" stroke-width="1.2" opacity="0.8"/>
<line x1="155.2" y1="533.6" x2="157.9" y2="533.6" stroke="#e2101c" stroke-width="1.2" opacity="0.8"/>
<line x1="176.6" y1="512.1" x2="176.6" y2="530.8" stroke="#e2101c" stroke-width="1.1" opacity="0.8"/>
<line x1="175.3" y1="512.1" x2="177.9" y2="512.1" stroke="#e2101c" stroke-width="1.2" opacity="0.8"/>
<line x1="175.3" y1="530.8" x2="177.9" y2="530.8" stroke="#e2101c" stroke-width="1.2" opacity="0.8"/>
<rect x="53.4" y="623.0" width="5.6" height="5.6" fill="#f5cf10"/>
<rect x="73.5" y="623.0" width="5.6" height="5.6" fill="#f5cf10"/>
<rect x="93.5" y="616.0" width="5.6" height="5.6" fill="#f3a01c"/>
<rect x="113.6" y="600.1" width="5.6" height="5.6" fill="#f2501a"/>
<rect x="133.7" y="581.4" width="5.6" height="5.6" fill="#e2101c"/>
<rect x="153.8" y="518.3" width="5.6" height="5.6" fill="#e2101c"/>
<rect x="173.8" y="518.9" width="5.6" height="5.6" fill="#e2101c"/>
<rect x="45.8" y="497.1" width="140.5" height="139.1" fill="none" stroke="#111" stroke-width="1.3"/>
<text x="52.6" y="666.0" font-size="13.2" font-weight="bold" text-anchor="start" >differentiation (days)</text>
<text transform="translate(13.0,575.1) rotate(-90)" x="0" y="0" font-size="13.3" font-weight="bold" text-anchor="middle">hemoglobin(arbitrary units)</text>
<text x="202.9" y="483.4" font-size="27" font-weight="bold" text-anchor="start" >E</text>
<line x1="230" y1="496.2" x2="343" y2="496.2" stroke="#efefef" stroke-width="1"/>
<line x1="259.7" y1="497" x2="259.7" y2="653.6" stroke="#d8d8d8" stroke-width="1" stroke-dasharray="1.4 2.2"/>
<line x1="286.4" y1="497" x2="286.4" y2="653.6" stroke="#d8d8d8" stroke-width="1" stroke-dasharray="1.4 2.2"/>
<line x1="312.8" y1="497" x2="312.8" y2="653.6" stroke="#d8d8d8" stroke-width="1" stroke-dasharray="1.4 2.2"/>
<path d="M234.2,561.9 L234.2,557.0 L262.0,556.9 L266.0,556.2 L268.0,555.3 L272.0,555.0 L280.0,555.2 L285.0,553.5 L287.2,547.0 L287.7,540.0 L288.1,532.3 L288.8,524.6 L290.0,518.5 L292.3,510.8 L294.0,507.6 L295.4,506.5 L296.8,507.6 L298.1,510.0 L300.4,517.7 L302.3,524.6 L303.8,532.3 L305.4,540.0 L306.5,542.7 L309.4,549.4 L312.3,553.8 L316.2,556.2 L320.0,557.6 L336.4,559.2 L336.4,561.9 Z" fill="#f9ca2c" />
<line x1="234.2" y1="561.9" x2="336.4" y2="561.9" stroke="#2a2a18" stroke-width="1.6"/>
<path d="M234.2,592.8 L234.2,584.3 L240.0,584.2 L245.0,583.9 L248.0,583.5 L249.8,582.5 L253.5,580.2 L257.2,577.0 L260.0,573.3 L263.2,567.8 L266.7,562.5 L268.5,558.5 L271.0,555.7 L273.8,551.3 L277.7,546.5 L279.8,544.8 L281.5,544.1 L283.0,544.6 L284.4,545.6 L286.3,549.4 L289.2,554.2 L293.1,559.0 L296.0,562.4 L298.8,566.7 L302.7,572.5 L306.5,577.3 L310.4,582.1 L313.3,585.0 L317.1,586.0 L320.0,586.4 L336.4,588.2 L336.4,592.8 Z" fill="#f8a50e" />
<line x1="234.2" y1="592.8" x2="336.4" y2="592.8" stroke="#2a2a18" stroke-width="1.6"/>
<path d="M234.2,624.3 L234.2,603.8 L242.0,601.7 L247.8,600.0 L252.4,596.5 L254.1,593.7 L255.8,592.3 L256.9,586.7 L257.9,582.0 L259.3,576.4 L262.0,571.0 L264.2,566.8 L267.3,563.4 L269.0,561.9 L270.8,561.3 L272.3,562.2 L273.1,563.7 L274.8,569.4 L277.1,578.1 L278.8,583.9 L280.5,589.0 L282.5,592.0 L284.4,593.8 L285.5,594.4 L288.8,595.6 L292.2,597.8 L294.2,602.5 L296.9,607.9 L301.0,611.9 L306.3,614.3 L311.7,616.2 L318.5,616.2 L323.8,617.0 L329.2,619.3 L336.4,621.0 L336.4,624.3 Z" fill="#f6521a" />
<line x1="234.2" y1="624.3" x2="336.4" y2="624.3" stroke="#2a2a18" stroke-width="1.6"/>
<path d="M234.2,653.6 L234.2,629.6 L244.5,629.6 L246.0,628.6 L247.3,626.5 L248.3,624.0 L250.7,616.7 L253.5,605.2 L255.3,593.7 L256.5,591.2 L258.5,590.0 L260.5,590.5 L261.8,592.0 L263.3,594.5 L265.1,602.3 L267.4,611.0 L270.3,618.5 L273.5,624.5 L279.1,630.2 L283.8,635.6 L288.5,641.6 L293.9,645.0 L302.0,648.4 L310.4,650.6 L318.9,649.9 L327.3,650.1 L336.4,650.7 L336.4,653.6 Z" fill="#ef1e18" />
<line x1="259.7" y1="497" x2="259.7" y2="653.6" stroke="#fff" stroke-width="1.1" stroke-dasharray="1.5 2.1" opacity="0.85"/>
<line x1="286.4" y1="497" x2="286.4" y2="653.6" stroke="#fff" stroke-width="1.1" stroke-dasharray="1.5 2.1" opacity="0.85"/>
<line x1="312.8" y1="497" x2="312.8" y2="653.6" stroke="#fff" stroke-width="1.1" stroke-dasharray="1.5 2.1" opacity="0.85"/>
<line x1="234.2" y1="499.4" x2="234.2" y2="654.4" stroke="#1a1a1a" stroke-width="1.5"/>
<line x1="233.5" y1="653.6" x2="336.4" y2="653.6" stroke="#1a1a1a" stroke-width="1.6"/>
<line x1="234.2" y1="653.6" x2="234.2" y2="657.0" stroke="#1a1a1a" stroke-width="1.3"/>
<line x1="259.7" y1="653.6" x2="259.7" y2="657.0" stroke="#1a1a1a" stroke-width="1.3"/>
<line x1="286.2" y1="653.6" x2="286.2" y2="657.0" stroke="#1a1a1a" stroke-width="1.3"/>
<line x1="312.7" y1="653.6" x2="312.7" y2="657.0" stroke="#1a1a1a" stroke-width="1.3"/>
<line x1="335.8" y1="653.6" x2="335.8" y2="657.0" stroke="#1a1a1a" stroke-width="1.3"/>
<line x1="227.1" y1="559.4" x2="227.1" y2="504" stroke="#151515" stroke-width="1.5"/>
<path d="M227.1,498.8 L230.0,505.8 L224.2,505.8 Z" fill="#151515"/>
<text transform="translate(221.4,531.9) rotate(-90)" font-size="13" font-weight="bold" text-anchor="middle">cell number</text>
<text x="340.2" y="560.4" font-size="13" font-weight="bold">day 0</text>
<text x="340.2" y="591.1" font-size="13" font-weight="bold">day 2</text>
<text x="340.2" y="622.3" font-size="13" font-weight="bold">day 4</text>
<text x="340.2" y="652.6" font-size="13" font-weight="bold">day 6</text>
<text x="234.4" y="672.7" font-size="12.5" font-weight="bold" text-anchor="middle">5</text>
<text x="260.0" y="672.7" font-size="12.5" font-weight="bold" text-anchor="middle">7</text>
<text x="288.5" y="672.7" font-size="12.5" font-weight="bold" text-anchor="middle">10</text>
<text x="314.4" y="672.7" font-size="12.5" font-weight="bold" text-anchor="middle">13</text>
<text x="337.5" y="672.7" font-size="12.5" font-weight="bold" text-anchor="middle">15</text>
<text x="259.6" y="686.1" font-size="13" font-weight="bold">diameter (µm)</text>
</svg>
</body></html>
